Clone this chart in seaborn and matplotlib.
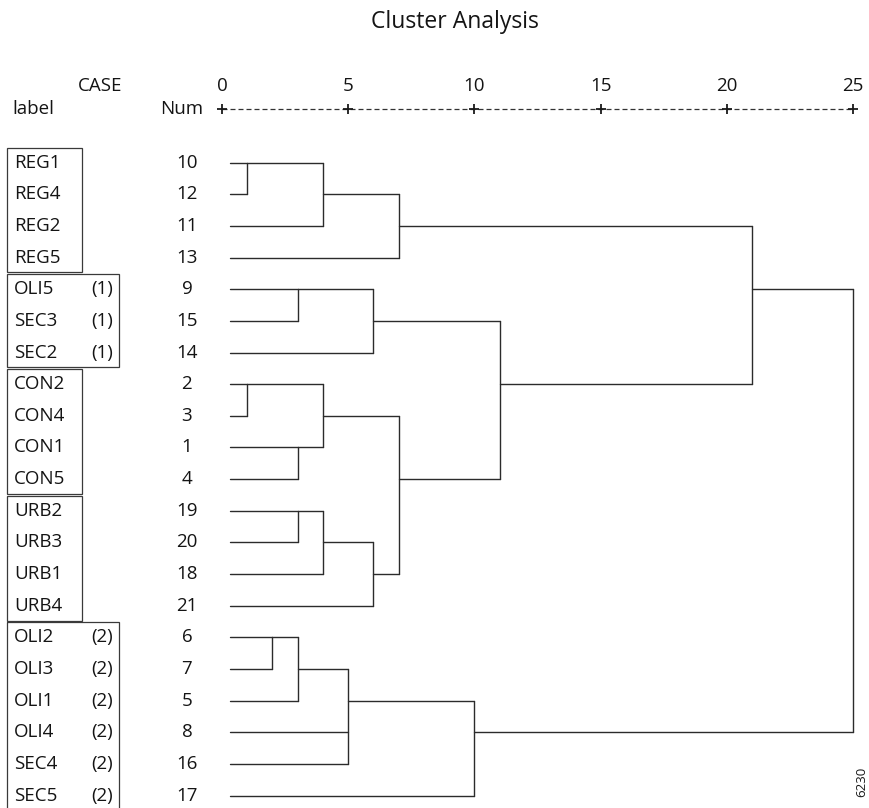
import pandas as pd
import seaborn as sns
import matplotlib.pyplot as plt
from matplotlib.patches import Rectangle

# Cases in dendrogram order, top to bottom
case_labels = ["REG1", "REG4", "REG2", "REG5",
               "OLI5", "SEC3", "SEC2",
               "CON2", "CON4", "CON1", "CON5",
               "URB2", "URB3", "URB1", "URB4",
               "OLI2", "OLI3", "OLI1", "OLI4", "SEC4", "SEC5"]
case_nums = [10, 12, 11, 13, 9, 15, 14, 2, 3, 1, 4, 19, 20, 18, 21, 6, 7, 5, 8, 16, 17]
case_tags = ["", "", "", "", "(1)", "(1)", "(1)", "", "", "", "", "", "", "", "",
             "(2)", "(2)", "(2)", "(2)", "(2)", "(2)"]

# Boxed label groups (first and last row of each box)
group_first = [0, 4, 7, 11, 15]
group_last = [3, 6, 10, 14, 20]
group_tagged = [False, True, False, False, True]

# Agglomeration steps: children are case numbers (int) or earlier steps ("s<k>")
merge_children = [
    [10, 12], [2, 3], [6, 7], [9, 15], [1, 4], [19, 20], ["s2", 5],
    ["s0", 11], ["s1", "s4"], ["s5", 18], ["s6", 8, 16],
    ["s3", 14], ["s9", 21], ["s7", 13], ["s8", "s12"],
    ["s10", 17], ["s11", "s14"], ["s13", "s16"], ["s17", "s15"],
]
merge_dist = [1, 1, 2, 3, 3, 3, 3, 4, 4, 4, 5, 6, 6, 7, 7, 10, 11, 21, 25]

scale_ticks = [0, 5, 10, 15, 20, 25]
leaf_start = 0.3

# Build the dendrogram segments from the merge table
row_of = {num: i for i, num in enumerate(case_nums)}
x_of = {num: leaf_start for num in case_nums}
xs, ys, seg_ids = [], [], []
seg = 0
for k, (children, h) in enumerate(zip(merge_children, merge_dist)):
    rows = [row_of[c] for c in children]
    for c in children:
        xs += [x_of[c], h]
        ys += [row_of[c], row_of[c]]
        seg_ids += [seg, seg]
        seg += 1
    xs += [h, h]
    ys += [min(rows), max(rows)]
    seg_ids += [seg, seg]
    seg += 1
    row_of["s%d" % k] = (min(rows) + max(rows)) // 2
    x_of["s%d" % k] = h

df = pd.DataFrame({"dist": xs, "row": ys, "seg": seg_ids})

sns.set_theme(style="white")
plt.rcParams["font.family"] = ["Open Sans", "DejaVu Sans"]

fig = plt.figure(figsize=(8.7, 8.08), dpi=100)
ax = fig.add_axes([0, 0, 1, 1])

sns.lineplot(data=df, x="dist", y="row", units="seg", estimator=None, sort=False,
             color="#2b2b2b", linewidth=1.0, ax=ax, legend=False)

txt = dict(fontsize=13.5, color="#141414")
axis_row = -1.70
head_row = -2.42

# Rescaled distance scale drawn as dashes with plus signs
ax.plot([scale_ticks[0], scale_ticks[-1]], [axis_row, axis_row], color="#333333",
        linewidth=0.9, linestyle=(0, (4, 2.4)))
ax.plot(scale_ticks, [axis_row] * len(scale_ticks), linestyle="none", marker="+",
        markersize=7.5, markeredgewidth=1.3, color="#1a1a1a")
for t in scale_ticks:
    ax.text(t, head_row, str(t), ha="center", va="center", **txt)

ax.text(-3.96, head_row, "CASE", ha="right", va="center", **txt)
ax.text(-8.32, axis_row, "label", ha="left", va="center", **txt)
ax.text(-0.75, axis_row, "Num", ha="right", va="center", **txt)

for i, (lab, num, tag) in enumerate(zip(case_labels, case_nums, case_tags)):
    ax.text(-8.24, i, lab, ha="left", va="center", **txt)
    if tag:
        ax.text(-4.32, i, tag, ha="right", va="center", **txt)
    ax.text(-1.39, i, str(num), ha="center", va="center", **txt)

for first, last, tagged in zip(group_first, group_last, group_tagged):
    right = -4.08 if tagged else -5.55
    ax.add_patch(Rectangle((-8.52, first - 0.47), right + 8.52, last - first + 0.94,
                           fill=False, edgecolor="#3a3a3a", linewidth=0.9))

ax.set_xlim(-8.796, 25.674)
ax.set_ylim(20.395, -5.142)
ax.axis("off")

fig.text(0.523, 1 - 22 / 808, "Cluster Analysis", ha="center", va="center",
         fontsize=16.5, color="#141414")
fig.text(862 / 870, 1 - 782 / 808, "6230", ha="center", va="center",
         rotation=90, fontsize=9.5, color="#1a1a1a")

fig.savefig("out.png", dpi=100)
